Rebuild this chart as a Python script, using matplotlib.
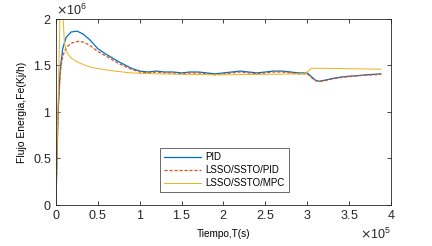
import numpy as np
import matplotlib
matplotlib.use('Agg')
from matplotlib import pyplot as plt
from matplotlib.ticker import ScalarFormatter

plt.rcParams['font.family'] = ['Liberation Sans', 'DejaVu Sans']

# tiempo en 1e5 s, flujo en 1e6 kJ/h
t_pid = [0, 0.01, 0.025, 0.05, 0.08, 0.12, 0.18, 0.25, 0.32, 0.4, 0.5, 0.6, 0.75,
         0.9, 1.0, 1.1, 1.2, 1.3, 1.4, 1.5, 1.6, 1.7, 1.8, 1.9, 2.0, 2.1, 2.2, 2.3,
         2.4, 2.5, 2.6, 2.7, 2.8, 2.9, 3.0, 3.05, 3.1, 3.15, 3.2, 3.3, 3.4, 3.5,
         3.6, 3.7, 3.8, 3.88]
f_pid = [0, 0.45, 1.0, 1.45, 1.68, 1.80, 1.86, 1.87, 1.84, 1.78, 1.68, 1.62, 1.54,
         1.47, 1.44, 1.43, 1.44, 1.43, 1.43, 1.42, 1.43, 1.43, 1.42, 1.41, 1.42, 1.43,
         1.44, 1.43, 1.42, 1.43, 1.44, 1.44, 1.43, 1.42, 1.42, 1.38, 1.34, 1.33,
         1.34, 1.36, 1.375, 1.385, 1.39, 1.40, 1.405, 1.41]

t_lpid = [0, 0.01, 0.025, 0.05, 0.08, 0.12, 0.18, 0.27, 0.33, 0.4, 0.5, 0.6, 0.75,
          0.9, 1.0, 1.1, 1.2, 1.3, 1.4, 1.5, 1.6, 1.7, 1.8, 1.9, 2.0, 2.1, 2.2, 2.3,
          2.4, 2.5, 2.6, 2.7, 2.8, 2.9, 3.0, 3.05, 3.1, 3.15, 3.2, 3.3, 3.4, 3.5,
          3.6, 3.7, 3.8, 3.88]
f_lpid = [0, 0.45, 1.0, 1.42, 1.60, 1.69, 1.74, 1.76, 1.75, 1.72, 1.65, 1.60, 1.52,
          1.46, 1.43, 1.42, 1.43, 1.42, 1.42, 1.41, 1.42, 1.42, 1.41, 1.40, 1.41, 1.42,
          1.43, 1.42, 1.41, 1.42, 1.43, 1.43, 1.42, 1.41, 1.41, 1.37, 1.335, 1.33,
          1.335, 1.355, 1.37, 1.38, 1.39, 1.395, 1.40, 1.405]

t_mpc = [0, 0.01, 0.025, 0.05, 0.08, 0.1, 0.13, 0.18, 0.25, 0.35, 0.45, 0.55, 0.7, 0.9,
         1.2, 1.5, 2.0, 2.5, 2.95, 3.0, 3.05, 3.2, 3.5, 3.88]
f_mpc = [0, 0.5, 1.1, 2.1, 2.1, 1.75, 1.64, 1.58, 1.54, 1.50, 1.475, 1.46, 1.44, 1.42,
         1.41, 1.405, 1.40, 1.405, 1.41, 1.43, 1.47, 1.47, 1.465, 1.46]


class MatlabFmt(ScalarFormatter):
    # etiquetas tipo MATLAB: 0, 0.5, 1 ...
    def _set_format(self):
        self.format = r'$\mathdefault{%g}$'


fig = plt.figure(figsize=(4.32, 2.46), dpi=100)
ax = fig.add_axes([0.1296, 0.1667, 0.7754, 0.7561])

ax.plot(np.array(t_pid) * 1e5, np.array(f_pid) * 1e6, color='#0072BD', lw=0.9, label='PID')
ax.plot(np.array(t_lpid) * 1e5, np.array(f_lpid) * 1e6, color='#D95319', lw=0.9,
        ls=(0, (2.5, 1.5)), label='LSSO/SSTO/PID')
ax.plot(np.array(t_mpc) * 1e5, np.array(f_mpc) * 1e6, color='#EDB120', lw=0.7,
        label='LSSO/SSTO/MPC')

ax.set_xlim(0, 4e5)
ax.set_ylim(0, 2e6)
ax.set_xticks(np.arange(0, 4.01e5, 0.5e5))
ax.set_yticks(np.arange(0, 2.01e6, 0.5e6))

for axis in (ax.xaxis, ax.yaxis):
    fmt = MatlabFmt(useMathText=True)
    fmt.set_powerlimits((0, 0))
    axis.set_major_formatter(fmt)

ax.tick_params(direction='in', top=True, right=True, length=3, width=0.6,
               labelsize=9, colors='#262626', pad=3)
ax.xaxis.get_offset_text().set_fontsize(9)
ax.yaxis.get_offset_text().set_fontsize(9)
for s in ax.spines.values():
    s.set_color('#262626')
    s.set_linewidth(0.6)

ax.set_xlabel('Tiempo,T(s)', fontsize=7.2, labelpad=5)
ax.set_ylabel('Flujo Energia,Fe(Kj/h)', fontsize=7.5, labelpad=4)

leg = ax.legend(loc='lower left', bbox_to_anchor=(0.31, 0.07), fontsize=7,
                frameon=True, fancybox=False, edgecolor='#262626', borderaxespad=0,
                handlelength=3.8, borderpad=0.4, labelspacing=0.3, handletextpad=0.5)
leg.get_frame().set_linewidth(0.6)

plt.savefig('out.png', dpi=100)
